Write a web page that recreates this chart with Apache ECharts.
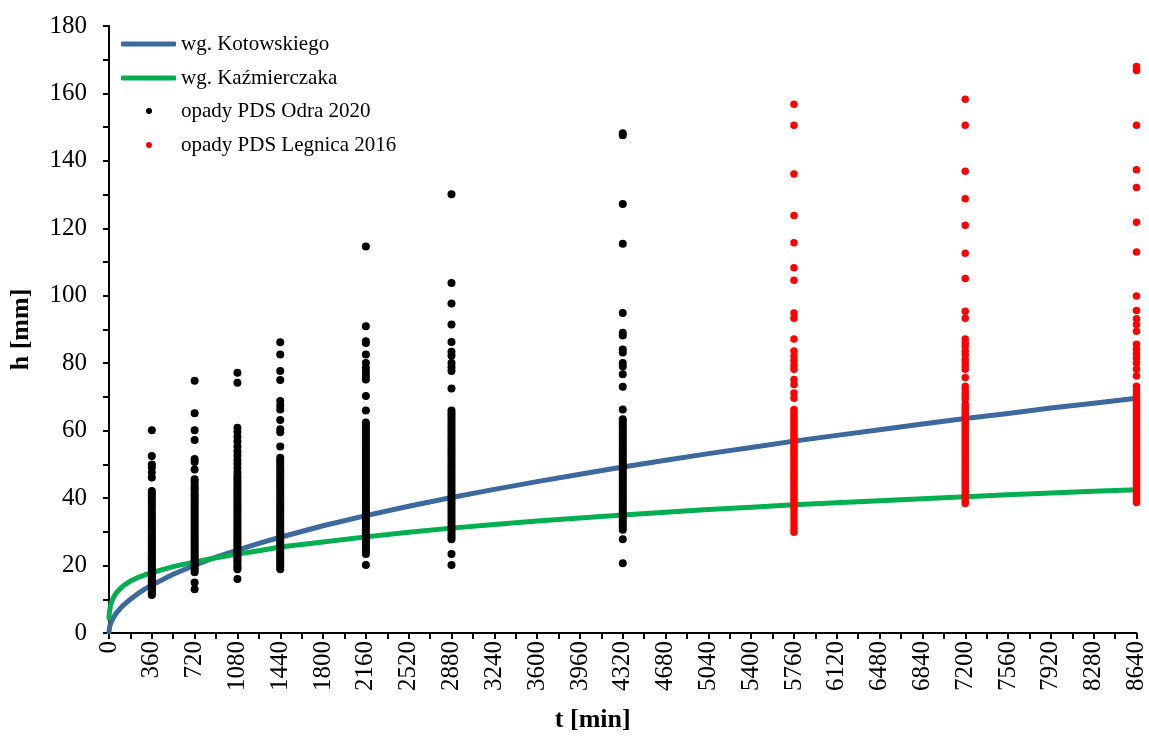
<!DOCTYPE html>
<html>
<head>
<meta charset="utf-8">
<script src="https://cdn.jsdelivr.net/npm/echarts@6/dist/echarts.min.js"></script>
<style>
  html, body { margin: 0; padding: 0; background: #fff; }
  #chart { width: 1149px; height: 738px; }
</style>
</head>
<body>
<div id="chart"></div>
<script>
// Duration of the rainfall event t [min] at which the design curves are read
const curveT = [0, 5, 10, 20, 40, 60, 90, 120, 180, 240, 300, 360, 540, 720, 900, 1080, 1260, 1440, 1800, 2160, 2520, 2880, 3240, 3600, 3960, 4320, 4680, 5040, 5400, 5760, 6120, 6480, 6840, 7200, 7560, 7920, 8280, 8640];
// Design rainfall depth h [mm] after Kotowski
const kotowskiH = [0.3, 1.7, 2.4, 3.4, 4.7, 5.8, 7.1, 8.2, 10.0, 11.6, 13.0, 14.2, 17.4, 20.1, 22.5, 24.6, 26.6, 28.4, 31.8, 34.8, 37.6, 40.2, 42.6, 44.9, 47.1, 49.2, 51.2, 53.2, 55.0, 56.9, 58.6, 60.3, 62.0, 63.6, 65.1, 66.7, 68.1, 69.6];
// Design rainfall depth h [mm] after Kaźmierczak
const kazmierczakH = [4.5, 6.6, 7.7, 9.1, 10.7, 11.8, 13.0, 14.0, 15.4, 16.4, 17.2, 17.9, 19.7, 21.1, 22.3, 23.4, 24.4, 25.5, 27.0, 28.5, 29.9, 31.1, 32.2, 33.2, 34.1, 35.0, 35.8, 36.6, 37.3, 38.0, 38.6, 39.2, 39.8, 40.4, 41.0, 41.5, 42.0, 42.5];

// Observed depths h [mm], PDS Odra 2020, grouped by duration
const odraT = [360, 720, 1080, 1440, 2160, 2880, 4320];
const odra360 = [60.1, 52.5, 50.0, 49.1, 47.6, 46.1, 42.1, 41.4, 40.7, 39.9, 39.2, 38.3, 37.6, 36.8, 35.9, 35.2, 34.4, 33.7, 32.9, 32.3, 31.5, 30.8, 30.2, 29.5, 28.8, 28.3, 27.6, 27.0, 26.4, 25.9, 25.2, 24.7, 24.1, 23.5, 23.0, 22.4, 21.9, 21.3, 20.8, 20.3, 19.8, 19.2, 18.7, 18.2, 17.7, 17.3, 16.8, 16.2, 15.7, 15.3, 14.8, 14.2, 13.8, 13.3, 12.8, 12.3, 11.8, 11.3];
const odra720 = [74.8, 65.2, 60.1, 57.2, 51.6, 50.7, 48.5, 45.6, 44.9, 44.1, 43.2, 42.6, 41.8, 41.0, 40.3, 39.5, 38.8, 38.0, 37.3, 36.5, 35.8, 35.1, 34.3, 33.6, 32.9, 32.2, 31.5, 30.8, 30.1, 29.4, 28.7, 28.0, 27.3, 26.6, 25.9, 25.2, 24.6, 23.9, 23.2, 22.6, 21.9, 21.3, 20.6, 20.0, 19.3, 18.7, 18.0, 15.0, 13.0];
const odra1080 = [77.2, 74.2, 60.9, 59.7, 58.2, 56.8, 55.3, 53.9, 52.6, 51.3, 50.1, 48.9, 47.7, 46.6, 45.8, 45.0, 44.2, 43.4, 42.6, 41.9, 41.1, 40.4, 39.6, 38.9, 38.1, 37.4, 36.6, 35.9, 35.1, 34.4, 33.6, 32.9, 32.1, 31.4, 30.7, 29.9, 29.2, 28.5, 27.8, 27.1, 26.4, 25.7, 25.0, 24.3, 23.6, 22.9, 22.2, 21.5, 20.8, 20.1, 19.5, 18.9, 16.0];
const odra1440 = [86.2, 82.6, 77.7, 75.0, 68.8, 67.5, 66.3, 63.2, 60.4, 59.5, 55.3, 52.0, 51.2, 50.4, 49.6, 48.8, 48.0, 47.2, 46.4, 45.6, 44.8, 44.0, 43.2, 42.4, 41.6, 40.9, 40.1, 39.3, 38.5, 37.8, 37.0, 36.2, 35.5, 34.7, 34.0, 33.2, 32.5, 31.7, 31.0, 30.2, 29.5, 28.8, 28.0, 27.3, 26.6, 25.9, 25.2, 24.5, 23.8, 23.1, 22.4, 21.7, 21.0, 20.3, 19.6, 18.9];
const odra2160 = [114.6, 91.0, 86.5, 86.0, 82.6, 80.1, 78.6, 77.4, 76.3, 75.2, 70.3, 66.0, 62.4, 61.6, 60.8, 60.0, 59.2, 58.4, 57.6, 56.8, 56.0, 55.2, 54.4, 53.6, 52.8, 52.0, 51.2, 50.4, 49.6, 48.8, 48.0, 47.2, 46.4, 45.6, 44.8, 44.0, 43.2, 42.4, 41.6, 40.8, 40.0, 39.2, 38.4, 37.6, 36.8, 36.0, 35.2, 34.4, 33.6, 32.8, 32.0, 31.2, 30.4, 29.6, 28.8, 28.0, 27.2, 26.4, 25.6, 24.8, 24.1, 23.4, 20.2];
const odra2880 = [130.1, 103.8, 97.7, 91.5, 86.3, 83.4, 82.2, 80.1, 78.9, 77.7, 72.5, 66.0, 65.2, 64.4, 63.6, 62.8, 62.0, 61.2, 60.4, 59.6, 58.8, 58.0, 57.2, 56.4, 55.6, 54.8, 54.0, 53.2, 52.4, 51.6, 50.8, 50.0, 49.2, 48.4, 47.6, 46.8, 46.0, 45.2, 44.4, 43.6, 42.8, 42.0, 41.2, 40.4, 39.6, 38.8, 38.0, 37.2, 36.4, 35.6, 34.8, 34.0, 33.2, 32.4, 31.6, 30.8, 30.0, 29.2, 28.5, 27.8, 23.4, 20.2];
const odra4320 = [148.2, 147.6, 127.2, 115.4, 94.9, 89.0, 88.2, 84.1, 83.2, 80.1, 79.0, 76.7, 73.0, 66.3, 63.4, 62.6, 61.8, 61.0, 60.2, 59.4, 58.6, 57.8, 57.0, 56.2, 55.4, 54.6, 53.8, 53.0, 52.2, 51.4, 50.6, 49.8, 49.0, 48.2, 47.4, 46.6, 45.8, 45.0, 44.2, 43.4, 42.6, 41.8, 41.0, 40.2, 39.4, 38.6, 37.8, 37.0, 36.2, 35.4, 34.6, 33.8, 33.0, 32.2, 31.4, 30.6, 27.8, 20.7];

// Observed depths h [mm], PDS Legnica 2016, grouped by duration
const legnicaT = [5760, 7200, 8640];
const legnica5760 = [156.8, 150.6, 136.1, 123.8, 115.7, 108.3, 104.6, 94.9, 93.3, 87.2, 83.6, 82.1, 80.7, 79.3, 78.2, 75.2, 73.7, 71.2, 69.6, 66.3, 65.5, 64.7, 63.9, 63.1, 62.3, 61.5, 60.7, 59.9, 59.1, 58.3, 57.5, 56.7, 55.9, 55.1, 54.3, 53.5, 52.7, 51.9, 51.1, 50.3, 49.5, 48.7, 47.9, 47.1, 46.3, 45.5, 44.7, 43.9, 43.1, 42.3, 41.5, 40.7, 39.9, 39.1, 38.3, 37.5, 36.8, 35.5, 34.3, 33.2, 32.1, 31.0, 29.9];
const legnica7200 = [158.3, 150.6, 136.9, 128.8, 120.9, 112.6, 105.1, 95.4, 93.3, 87.2, 86.0, 85.0, 83.6, 82.5, 81.1, 80.2, 79.2, 78.2, 75.8, 73.2, 72.2, 71.2, 70.2, 69.3, 67.8, 67.0, 66.2, 65.4, 64.6, 63.8, 63.0, 62.2, 61.4, 60.6, 59.8, 59.0, 58.2, 57.4, 56.6, 55.8, 55.0, 54.2, 53.4, 52.6, 51.8, 51.0, 50.2, 49.4, 48.6, 47.8, 47.0, 46.4, 45.6, 44.8, 44.0, 43.2, 42.4, 41.6, 40.8, 40.0, 39.2, 38.4];
const legnica8640 = [168.0, 166.8, 150.6, 137.4, 132.1, 121.8, 113.0, 99.9, 95.6, 93.2, 91.5, 89.5, 85.6, 84.2, 82.8, 81.5, 80.1, 78.2, 76.2, 73.2, 72.0, 70.8, 69.8, 69.0, 68.2, 67.4, 66.6, 65.8, 65.0, 64.2, 63.4, 62.6, 61.8, 61.0, 60.2, 59.4, 58.6, 57.8, 57.0, 56.2, 55.4, 54.6, 53.8, 53.0, 52.2, 51.4, 50.6, 49.8, 49.0, 48.2, 47.4, 46.6, 45.8, 45.0, 44.2, 43.4, 42.6, 41.8, 41.0, 40.2, 39.4, 38.7];

// Axis scales
const xMax = 8640, xStep = 360;
const yMax = 180, yStep = 20;

const odraGroups = [odra360, odra720, odra1080, odra1440, odra2160, odra2880, odra4320];
const legnicaGroups = [legnica5760, legnica7200, legnica8640];

function toPoints(times, groups) {
  const pts = [];
  groups.forEach((vals, i) => vals.forEach(v => pts.push([times[i], v])));
  return pts;
}
const pair = (xs, ys) => xs.map((x, i) => [x, ys[i]]);

const FONT = 'Liberation Serif';
const names = ['wg. Kotowskiego', 'wg. Kaźmierczaka', 'opady PDS Odra 2020', 'opady PDS Legnica 2016'];
const legendText = { fontFamily: FONT, fontSize: 21, color: '#000', lineHeight: 22 };
const dotText = Object.assign({ padding: [0, 0, 0, 24] }, legendText);

const chart = echarts.init(document.getElementById('chart'), null, { renderer: 'canvas' });
chart.setOption({
  backgroundColor: '#fff',
  animation: false,
  grid: { left: 107, right: 12, top: 26, bottom: 104, containLabel: false },
  legend: [
    { data: [names[0]], left: 116, top: 28, icon: 'roundRect', itemWidth: 55, itemHeight: 5, selectedMode: false, textStyle: legendText },
    { data: [names[1]], left: 116, top: 62, icon: 'roundRect', itemWidth: 55, itemHeight: 5, selectedMode: false, textStyle: legendText },
    { data: [names[2]], left: 141, top: 95, icon: 'circle', itemWidth: 6, itemHeight: 6, selectedMode: false, textStyle: dotText },
    { data: [names[3]], left: 141, top: 129, icon: 'circle', itemWidth: 6, itemHeight: 6, selectedMode: false, textStyle: dotText }
  ],
  xAxis: {
    type: 'value', min: 0, max: xMax, interval: xStep,
    name: 't [min]', nameLocation: 'middle', nameGap: 74,
    nameTextStyle: { fontFamily: FONT, fontSize: 26, fontWeight: 'bold', color: '#000', padding: [0, 60, 0, 0] },
    axisLine: { show: true, lineStyle: { color: '#000', width: 2 } },
    axisTick: { show: true, length: 6, lineStyle: { color: '#000', width: 2 } },
    minorTick: { show: true, splitNumber: 2, length: 6, lineStyle: { color: '#000', width: 2 } },
    splitLine: { show: false },
    axisLabel: { rotate: 90, margin: 8, fontFamily: FONT, fontSize: 25, color: '#000',
      showMinLabel: true, showMaxLabel: true, formatter: v => String(v) }
  },
  yAxis: {
    type: 'value', min: 0, max: yMax, interval: yStep,
    name: 'h [mm]', nameLocation: 'middle', nameGap: 75, nameRotate: 90,
    nameTextStyle: { fontFamily: FONT, fontSize: 26, fontWeight: 'bold', color: '#000' },
    axisLine: { show: true, lineStyle: { color: '#000', width: 2 } },
    axisTick: { show: true, length: 6, lineStyle: { color: '#000', width: 2 } },
    minorTick: { show: true, splitNumber: 2, length: 6, lineStyle: { color: '#000', width: 2 } },
    splitLine: { show: false },
    axisLabel: { margin: 22, fontFamily: FONT, fontSize: 25, color: '#000', formatter: v => String(v) }
  },
  series: [
    {
      name: names[0], type: 'line', data: pair(curveT, kotowskiH),
      smooth: false, showSymbol: false, symbol: 'none',
      lineStyle: { color: '#3D6A9E', width: 5, cap: 'round', join: 'round' }, itemStyle: { color: '#3D6A9E' }, z: 2
    },
    {
      name: names[1], type: 'line', data: pair(curveT, kazmierczakH),
      smooth: false, showSymbol: false, symbol: 'none',
      lineStyle: { color: '#00B050', width: 5, cap: 'round', join: 'round' }, itemStyle: { color: '#00B050' }, z: 2
    },
    {
      name: names[2], type: 'scatter', data: toPoints(odraT, odraGroups),
      symbol: 'circle', symbolSize: 8, clip: false,
      itemStyle: { color: '#000', opacity: 1 }, z: 3
    },
    {
      name: names[3], type: 'scatter', data: toPoints(legnicaT, legnicaGroups),
      symbol: 'circle', symbolSize: 7.5, clip: false,
      itemStyle: { color: '#FF0000', opacity: 1 }, z: 3
    }
  ]
});
</script>
</body>
</html>
